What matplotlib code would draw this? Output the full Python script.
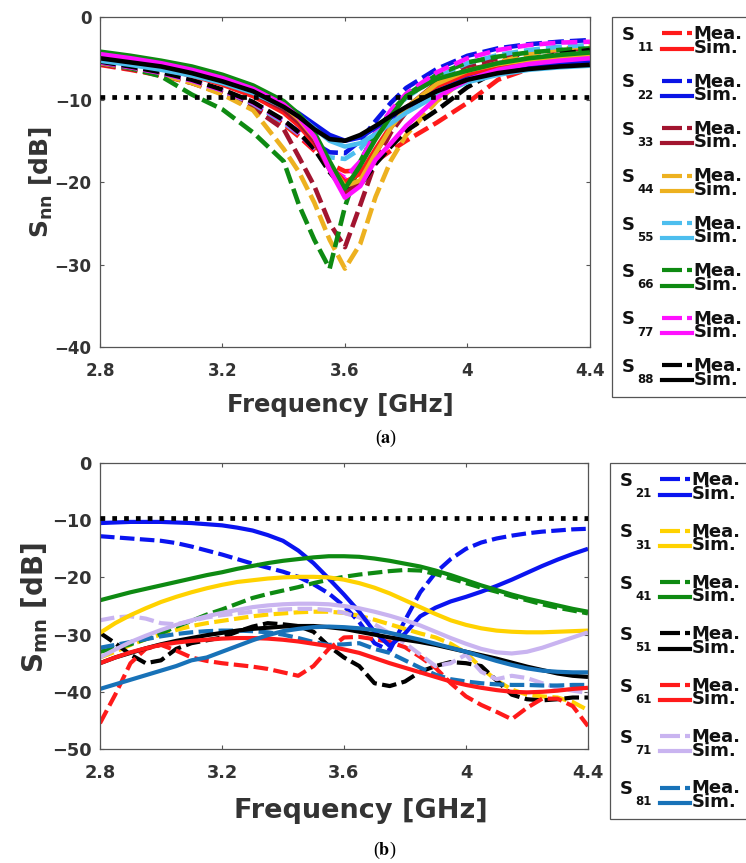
import numpy as np
import matplotlib.pyplot as plt
from matplotlib.legend_handler import HandlerBase
from matplotlib.lines import Line2D
from matplotlib.text import Text

plt.rcParams['font.family'] = 'DejaVu Sans'
plt.rcParams['font.weight'] = 'bold'
plt.rcParams['axes.labelweight'] = 'bold'
plt.rcParams['mathtext.fontset'] = 'dejavusans'

# ---------------- (a) reflection coefficients ----------------
freq_a = [2.8, 2.9, 3.0, 3.1, 3.2, 3.3, 3.4, 3.45, 3.5, 3.55, 3.6, 3.65,
          3.7, 3.75, 3.8, 3.9, 4.0, 4.1, 4.2, 4.3, 4.4]

s11_mea = [-5.8, -6.4, -7.1, -8.0, -9.2, -10.8, -13.0, -14.5, -16.2, -17.8, -18.7,
           -18.6, -17.5, -16.2, -15.0, -12.8, -10.4, -7.6, -6.3, -5.6, -5.0]
s11_sim = [-5.0, -5.6, -6.3, -7.1, -8.2, -9.6, -11.6, -13.2, -15.3, -18.0, -20.0,
           -19.0, -16.0, -13.2, -11.0, -8.4, -7.0, -6.2, -5.6, -5.2, -4.9]
s22_mea = [-5.6, -6.2, -6.9, -7.8, -9.0, -10.5, -12.6, -13.9, -15.3, -16.4, -16.5,
           -15.0, -12.6, -10.4, -8.6, -6.3, -4.7, -3.8, -3.3, -3.0, -2.8]
s22_sim = [-5.2, -5.7, -6.3, -7.0, -7.9, -9.0, -10.6, -11.7, -13.0, -14.3, -15.0,
           -14.6, -13.4, -12.2, -11.0, -9.0, -7.5, -6.6, -6.0, -5.6, -5.3]
s33_mea = [-5.7, -6.3, -7.0, -8.0, -9.3, -11.0, -13.6, -17.0, -20.5, -25.0, -27.9,
           -22.8, -17.5, -14.0, -11.5, -7.9, -6.0, -5.0, -4.4, -4.0, -3.8]
s33_sim = [-5.0, -5.5, -6.1, -6.9, -7.9, -9.2, -11.2, -12.8, -15.0, -18.5, -21.4,
           -20.0, -16.5, -13.4, -11.0, -8.0, -6.4, -5.6, -5.1, -4.8, -4.6]
s44_mea = [-5.6, -6.2, -7.0, -8.0, -9.4, -11.3, -16.0, -18.8, -22.5, -27.0, -30.5,
           -27.5, -21.8, -17.4, -14.3, -10.2, -7.3, -5.5, -4.5, -3.9, -3.5]
s44_sim = [-4.6, -5.1, -5.7, -6.5, -7.5, -8.8, -10.8, -12.4, -14.6, -17.8, -20.5,
           -19.8, -16.5, -13.4, -11.0, -8.1, -6.5, -5.7, -5.2, -4.9, -4.8]
s55_mea = [-5.5, -6.1, -6.8, -7.7, -8.9, -10.5, -12.8, -14.2, -15.8, -17.0, -17.2,
           -16.0, -13.8, -11.6, -9.8, -7.3, -5.6, -4.6, -4.0, -3.6, -3.4]
s55_sim = [-5.3, -5.8, -6.4, -7.1, -8.0, -9.2, -10.9, -12.0, -13.5, -15.0, -15.7,
           -15.3, -14.2, -12.9, -11.6, -9.5, -7.9, -7.0, -6.4, -6.1, -5.9]
s66_mea = [-5.5, -6.2, -7.2, -9.4, -11.2, -14.0, -17.5, -22.8, -27.0, -30.5, -23.0,
           -17.5, -14.0, -11.5, -9.5, -7.0, -5.5, -4.8, -4.3, -4.0, -3.8]
s66_sim = [-4.2, -4.7, -5.3, -6.0, -7.0, -8.3, -10.2, -11.8, -14.0, -17.5, -20.8,
           -18.0, -14.8, -12.0, -9.6, -7.5, -6.5, -5.6, -5.0, -4.6, -4.3]
s77_mea = [-5.5, -6.1, -6.8, -7.7, -8.9, -10.4, -12.6, -14.1, -16.0, -18.3, -19.5,
           -17.5, -14.0, -11.3, -9.3, -6.7, -5.0, -4.0, -3.4, -3.1, -3.0]
s77_sim = [-4.5, -5.0, -5.6, -6.4, -7.4, -8.7, -10.6, -12.2, -14.5, -18.5, -21.9,
           -20.5, -17.3, -15.3, -13.2, -9.8, -7.6, -6.4, -5.7, -5.3, -5.0]
s88_mea = [-5.4, -6.0, -6.7, -7.6, -8.8, -10.3, -12.5, -14.0, -16.0, -18.8, -21.0,
           -20.4, -17.8, -15.7, -13.8, -11.3, -8.5, -6.5, -5.2, -4.5, -4.0]
s88_sim = [-5.0, -5.5, -6.0, -6.8, -7.8, -9.0, -10.9, -12.1, -13.6, -14.8, -15.0,
           -14.3, -13.2, -12.0, -10.9, -9.0, -7.6, -6.8, -6.3, -6.0, -5.8]

ports_a = ['11', '22', '33', '44', '55', '66', '77', '88']
colors_a = ['#ff1a1a', '#0a14e6', '#a2142f', '#edb120', '#4dbeee', '#0e8a12', '#ff10ff', '#000000']
mea_a = [s11_mea, s22_mea, s33_mea, s44_mea, s55_mea, s66_mea, s77_mea, s88_mea]
sim_a = [s11_sim, s22_sim, s33_sim, s44_sim, s55_sim, s66_sim, s77_sim, s88_sim]

# ---------------- (b) transmission coefficients ----------------
freq_b = [2.80, 2.85, 2.90, 2.95, 3.00, 3.05, 3.10, 3.15, 3.20, 3.25, 3.30,
          3.35, 3.40, 3.45, 3.50, 3.55, 3.60, 3.65, 3.70, 3.75, 3.80, 3.85,
          3.90, 3.95, 4.00, 4.05, 4.10, 4.15, 4.20, 4.25, 4.30, 4.35, 4.40]

s21_mea = [-12.8, -13.0, -13.2, -13.4, -13.6, -14.0, -14.6, -15.3, -16.0, -16.8, -17.6,
           -18.3, -19.0, -19.9, -21.2, -22.8, -25.0, -27.8, -31.5, -32.8, -27.5, -22.6,
           -19.2, -16.8, -15.0, -13.9, -13.2, -12.7, -12.3, -12.0, -11.8, -11.6, -11.5]
s21_sim = [-10.5, -10.4, -10.3, -10.3, -10.3, -10.4, -10.5, -10.7, -10.9, -11.3, -11.8,
           -12.6, -13.6, -15.3, -17.5, -20.2, -23.0, -26.0, -29.5, -32.0, -29.8, -26.8,
           -25.3, -24.2, -23.4, -22.5, -21.5, -20.4, -19.2, -18.0, -16.9, -15.9, -15.0]
s31_mea = [-34.0, -33.0, -31.8, -30.8, -30.0, -29.2, -28.5, -28.0, -27.6, -27.2, -26.8,
           -26.5, -26.3, -26.1, -26.0, -26.0, -26.2, -26.7, -27.4, -28.2, -29.0, -29.8,
           -30.5, -31.6, -33.2, -35.8, -38.0, -39.6, -40.5, -40.8, -41.0, -41.8, -43.2]
s31_sim = [-29.7, -28.0, -26.6, -25.4, -24.3, -23.4, -22.6, -21.9, -21.3, -20.8, -20.5,
           -20.2, -20.0, -19.9, -19.9, -20.0, -20.4, -21.0, -21.8, -22.8, -24.0, -25.2,
           -26.4, -27.5, -28.3, -28.9, -29.3, -29.5, -29.6, -29.6, -29.5, -29.4, -29.3]
s41_mea = [-33.0, -32.4, -31.7, -30.8, -29.8, -28.6, -27.6, -26.5, -25.6, -24.6, -23.6,
           -22.9, -22.3, -21.7, -21.0, -20.4, -19.9, -19.5, -19.2, -18.9, -18.7, -18.8,
           -19.4, -20.2, -21.0, -21.8, -22.5, -23.3, -24.0, -24.7, -25.3, -25.8, -26.3]
s41_sim = [-24.0, -23.3, -22.6, -22.0, -21.4, -20.8, -20.2, -19.6, -19.1, -18.5, -18.0,
           -17.5, -17.1, -16.8, -16.5, -16.3, -16.3, -16.4, -16.7, -17.1, -17.6, -18.1,
           -18.8, -19.6, -20.5, -21.4, -22.2, -23.0, -23.7, -24.3, -24.9, -25.5, -26.0]
s51_mea = [-29.7, -31.5, -33.5, -35.0, -34.5, -32.5, -31.5, -31.0, -30.5, -29.5, -28.6,
           -28.0, -28.2, -28.5, -29.5, -32.0, -34.0, -35.5, -38.5, -39.0, -38.2, -36.5,
           -35.5, -34.8, -35.0, -35.5, -38.0, -40.5, -41.3, -41.5, -41.3, -41.0, -41.0]
s51_sim = [-35.0, -34.0, -33.2, -32.4, -31.7, -31.1, -30.6, -30.1, -29.7, -29.3, -29.0,
           -28.8, -28.6, -28.5, -28.5, -28.7, -29.0, -29.5, -30.0, -30.5, -30.9, -31.3,
           -31.8, -32.4, -33.0, -33.6, -34.2, -34.9, -35.6, -36.2, -36.8, -37.2, -37.4]
s61_mea = [-45.5, -40.5, -35.0, -32.5, -31.8, -32.8, -34.0, -34.6, -35.0, -35.3, -35.6,
           -36.0, -36.6, -37.2, -35.5, -32.5, -30.5, -30.4, -30.8, -31.3, -32.2, -33.9,
           -35.8, -38.5, -40.8, -42.3, -43.5, -44.8, -42.8, -41.2, -41.2, -42.5, -46.0]
s61_sim = [-35.0, -34.0, -33.1, -32.4, -31.8, -31.4, -31.1, -30.9, -30.7, -30.6, -30.6,
           -30.7, -30.9, -31.2, -31.6, -32.0, -32.6, -33.2, -34.1, -35.0, -35.8, -36.6,
           -37.4, -38.2, -38.8, -39.3, -39.7, -40.0, -40.1, -40.0, -39.8, -39.5, -39.3]
s71_mea = [-27.5, -27.0, -26.8, -27.2, -28.0, -28.2, -27.6, -27.0, -26.6, -26.3, -26.0,
           -25.8, -25.6, -25.5, -25.5, -25.7, -26.2, -27.0, -28.2, -29.8, -31.5, -33.5,
           -35.5, -35.0, -33.5, -36.5, -37.8, -37.2, -37.6, -38.5, -39.3, -39.8, -40.2]
s71_sim = [-34.0, -32.6, -31.3, -30.2, -29.2, -28.3, -27.5, -26.8, -26.2, -25.7, -25.2,
           -24.9, -24.7, -24.6, -24.6, -24.7, -25.0, -25.4, -26.0, -26.7, -27.5, -28.4,
           -29.5, -30.6, -31.6, -32.5, -33.1, -33.3, -33.0, -32.3, -31.4, -30.5, -29.6]
s81_mea = [-32.3, -31.8, -31.3, -30.8, -30.3, -29.9, -29.6, -29.4, -29.3, -29.3, -29.4,
           -29.6, -30.0, -30.6, -31.3, -31.8, -31.7, -31.5, -32.5, -33.2, -34.5, -35.8,
           -37.0, -37.8, -38.2, -38.5, -38.7, -38.8, -38.8, -38.9, -38.9, -38.8, -38.8]
s81_sim = [-39.5, -38.7, -37.9, -37.1, -36.3, -35.5, -34.5, -34.0, -33.0, -32.0, -31.0,
           -30.1, -29.4, -29.0, -28.7, -28.6, -28.7, -28.9, -29.2, -29.7, -30.3, -30.9,
           -31.6, -32.3, -33.0, -33.8, -34.6, -35.3, -35.9, -36.3, -36.5, -36.6, -36.6]

ports_b = ['21', '31', '41', '51', '61', '71', '81']
colors_b = ['#0a14f0', '#ffd200', '#0e8a12', '#000000', '#ff1a1a', '#c9b4f0', '#1872b8']
mea_b = [s21_mea, s31_mea, s41_mea, s51_mea, s61_mea, s71_mea, s81_mea]
sim_b = [s21_sim, s31_sim, s41_sim, s51_sim, s61_sim, s71_sim, s81_sim]

threshold_db = -9.7
xticks = [2.8, 3.2, 3.6, 4.0, 4.4]
xtick_labels = ['2.8', '3.2', '3.6', '4', '4.4']

LEG_FS = 13
LEG_LSP = 0.68


class PortHandler(HandlerBase):
    """Draws 'S_nm' plus a dashed (Mea.) and a solid (Sim.) sample line."""

    def __init__(self, port):
        super().__init__()
        self.port = port

    def create_artists(self, legend, orig_handle, xdescent, ydescent,
                       width, height, fontsize, trans):
        mea, sim = orig_handle
        x0 = -xdescent
        asc = 0.76 * fontsize
        base_mea = 0.5 * asc * LEG_LSP + 0.33 * fontsize
        base_sim = -0.5 * asc * LEG_LSP
        lift = 0.22 * fontsize
        l1 = Line2D([x0 + 30, x0 + 52], [base_mea + lift] * 2, color=mea.get_color(),
                    lw=3, dashes=(4.8, 1.2), transform=trans)
        l2 = Line2D([x0 + 30, x0 + 52], [base_sim + lift] * 2, color=sim.get_color(),
                    lw=3, transform=trans)
        s = Text(x0 + 1.5, base_mea - 2.0, 'S', fontsize=13, fontweight='bold',
                 color='#111111', va='baseline', ha='left', transform=trans)
        sub = Text(x0 + 12.5, base_sim + 1.0, self.port, fontsize=8.5, fontweight='bold',
                   color='#111111', va='baseline', ha='left', transform=trans)
        return [l1, l2, s, sub]


def draw_panel(ax, freq, meas, sims, colors, lw):
    for vals, c in zip(meas, colors):
        ax.plot(freq, vals, color=c, lw=lw, dashes=(3.5, 1.3))
    pairs = []
    for vals, m, c in zip(sims, list(ax.lines), colors):
        line, = ax.plot(freq, vals, color=c, lw=lw, solid_capstyle='butt')
        pairs.append((m, line))
    ax.axhline(threshold_db, color='black', lw=3.4, dashes=(1, 1.5), zorder=5)
    return pairs


def style_axes(ax, ylim, yticks, tick_fs):
    ax.set_xlim(2.8, 4.4)
    ax.set_ylim(*ylim)
    ax.set_xticks(xticks)
    ax.set_xticklabels(xtick_labels)
    ax.set_yticks(yticks)
    ax.tick_params(direction='in', top=True, right=True, length=3, width=0.8,
                   color='#555555', labelcolor='#333333', labelsize=tick_fs)
    ax.tick_params(axis='x', pad=11)
    ax.tick_params(axis='y', pad=6)
    for sp in ax.spines.values():
        sp.set_color('#555555')
        sp.set_linewidth(0.9)


def add_legend(fig, ax, pairs, ports, anchor, lspace):
    leg = ax.legend(handles=pairs, labels=['Mea.\nSim.'] * len(pairs),
                    handler_map={p: PortHandler(n) for p, n in zip(pairs, ports)},
                    loc='upper left', bbox_to_anchor=anchor, bbox_transform=fig.transFigure,
                    borderaxespad=0, borderpad=0.45, fontsize=LEG_FS, handlelength=4.0,
                    handletextpad=0.05, labelspacing=lspace, handleheight=0.7,
                    fancybox=False, framealpha=1, edgecolor='#555555')
    leg.get_frame().set_linewidth(0.9)
    for t in leg.get_texts():
        t.set_linespacing(LEG_LSP)
        t.set_color('#111111')
    return leg


fig = plt.figure(figsize=(7.46, 8.63), dpi=100)
ax_a = fig.add_axes([0.1340, 0.5979, 0.6568, 0.3824])
ax_b = fig.add_axes([0.1340, 0.1321, 0.6542, 0.3314])

pairs_a = draw_panel(ax_a, freq_a, mea_a, sim_a, colors_a, 3.3)
style_axes(ax_a, (-40, 0), [0, -10, -20, -30, -40], 12)
ax_a.set_xlabel('Frequency [GHz]', fontsize=17.5, color='#333333', va='top')
ax_a.xaxis.set_label_coords(0.49, -0.139)
ax_a.set_ylabel(r'S$_{\mathbf{nn}}$ [dB]', fontsize=18, color='#333333')
ax_a.yaxis.set_label_coords(-0.092, 0.5)
add_legend(fig, ax_a, pairs_a, ports_a, (0.8204, 0.9803), 0.88)

pairs_b = draw_panel(ax_b, freq_b, mea_b, sim_b, colors_b, 3.0)
style_axes(ax_b, (-50, 0), [0, -10, -20, -30, -40, -50], 12.8)
ax_b.set_xlabel('Frequency [GHz]', fontsize=19.5, color='#333333', va='top')
ax_b.xaxis.set_label_coords(0.535, -0.171)
ax_b.set_ylabel(r'S$_{\mathbf{mn}}$ [dB]', fontsize=20, color='#333333')
ax_b.yaxis.set_label_coords(-0.102, 0.493)
add_legend(fig, ax_b, pairs_b, ports_b, (0.8177, 0.4635), 1.10)

fig.text(0.517, 0.4925, r'($\mathbf{a}$)', family='Liberation Serif', math_fontfamily='stix',
         fontsize=13, fontweight='normal', ha='center', va='center')
fig.text(0.516, 0.015, r'($\mathbf{b}$)', family='Liberation Serif', math_fontfamily='stix',
         fontsize=13, fontweight='normal', ha='center', va='center')

fig.savefig('out.png', dpi=100)
